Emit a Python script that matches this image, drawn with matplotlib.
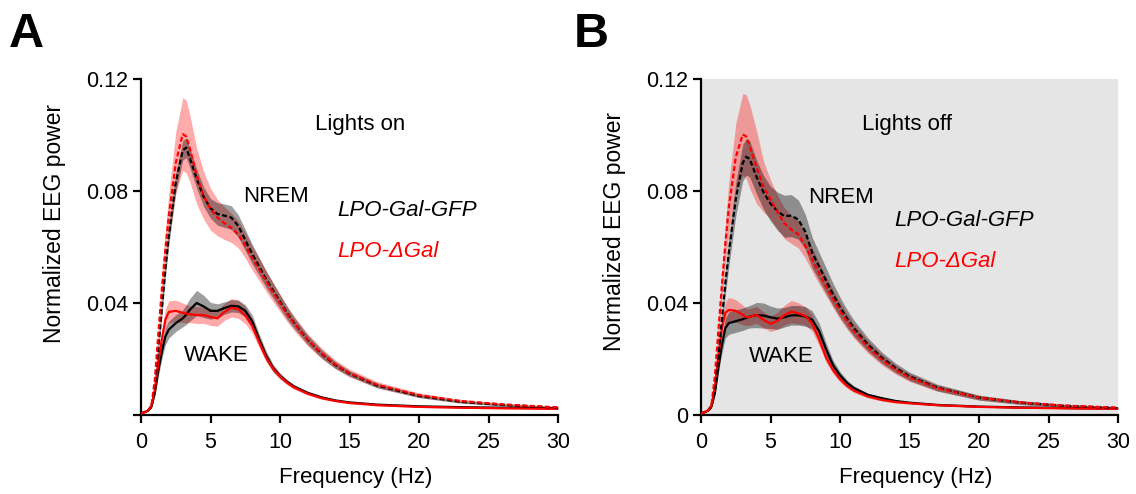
import matplotlib
matplotlib.use("Agg")
import matplotlib.pyplot as plt
import numpy as np

plt.rcParams['font.family'] = ['Liberation Sans', 'DejaVu Sans']

# frequency grid (Hz)
freq = [0, 0.25, 0.5, 0.75, 1.0, 1.25, 1.5, 1.75, 2.0, 2.5, 3.0, 3.25, 3.5, 4.0, 4.5,
        5.0, 5.5, 6.0, 6.5, 7.0, 7.5, 8.0, 8.5, 9.0, 9.5, 10, 10.5, 11, 12, 13, 14, 15,
        17, 20, 23, 26, 30]

# ---- A: lights on ----
a_nrem_gfp = [0.0005, 0.001, 0.0016, 0.003, 0.010, 0.024, 0.038, 0.052, 0.064, 0.083, 0.0945,
              0.0955, 0.092, 0.0845, 0.078, 0.0738, 0.0718, 0.0712, 0.0705, 0.0675, 0.0625,
              0.0575, 0.053, 0.0485, 0.0445, 0.0405, 0.0365, 0.033, 0.0268, 0.0218, 0.0178,
              0.0148, 0.0105, 0.0068, 0.0047, 0.0036, 0.0026]
a_nrem_gfp_sem = [0, 0, 0.0002, 0.0005, 0.001, 0.002, 0.003, 0.003, 0.0035, 0.0035, 0.0035,
                  0.0035, 0.0035, 0.0035, 0.0035, 0.0035, 0.004, 0.0042, 0.0042, 0.004, 0.0038,
                  0.0035, 0.0032, 0.003, 0.0028, 0.0025, 0.0023, 0.002, 0.0017, 0.0015, 0.0012,
                  0.001, 0.0008, 0.0006, 0.0005, 0.0004, 0.0003]
a_nrem_dgal = [0.0005, 0.001, 0.0016, 0.0032, 0.013, 0.029, 0.045, 0.059, 0.071, 0.090, 0.1003,
               0.0995, 0.0955, 0.0855, 0.0785, 0.0735, 0.0705, 0.0685, 0.0668, 0.0645, 0.0605,
               0.056, 0.052, 0.0478, 0.0438, 0.040, 0.0362, 0.0328, 0.0268, 0.022, 0.018,
               0.015, 0.0108, 0.0071, 0.005, 0.0038, 0.0027]
a_nrem_dgal_sem = [0, 0, 0.0002, 0.0005, 0.0015, 0.003, 0.005, 0.0065, 0.008, 0.011, 0.013,
                   0.013, 0.012, 0.010, 0.0085, 0.0075, 0.0065, 0.0058, 0.0052, 0.0048, 0.0045,
                   0.0042, 0.004, 0.0037, 0.0034, 0.0031, 0.0028, 0.0026, 0.0022, 0.0019,
                   0.0016, 0.0014, 0.0011, 0.0008, 0.0006, 0.0005, 0.0004]
a_wake_gfp = [0.0005, 0.001, 0.0015, 0.003, 0.008, 0.016, 0.0225, 0.028, 0.0305, 0.0328, 0.0345,
              0.0358, 0.0375, 0.040, 0.0388, 0.0372, 0.0372, 0.0382, 0.039, 0.0388, 0.0372,
              0.0335, 0.027, 0.0212, 0.0168, 0.014, 0.0119, 0.0102, 0.0079, 0.0063, 0.0052,
              0.0045, 0.0037, 0.0031, 0.0028, 0.0026, 0.0024]
a_wake_gfp_sem = [0, 0, 0.0002, 0.0004, 0.001, 0.002, 0.0025, 0.003, 0.003, 0.003, 0.003,
                  0.0035, 0.004, 0.0045, 0.004, 0.003, 0.0025, 0.0022, 0.0022, 0.0022, 0.0022,
                  0.0022, 0.002, 0.0017, 0.0013, 0.001, 0.0008, 0.0007, 0.0005, 0.0004, 0.0003,
                  0.0003, 0.0002, 0.0002, 0.0002, 0.0002, 0.0002]
a_wake_dgal = [0.0005, 0.001, 0.0015, 0.0032, 0.009, 0.019, 0.027, 0.034, 0.0368, 0.0372, 0.0365,
               0.0362, 0.036, 0.0357, 0.0357, 0.035, 0.0345, 0.0368, 0.0383, 0.0378, 0.0356,
               0.0318, 0.026, 0.0205, 0.0165, 0.0138, 0.0116, 0.0099, 0.0076, 0.006, 0.005,
               0.0043, 0.0035, 0.0029, 0.0026, 0.0024, 0.0022]
a_wake_dgal_sem = [0, 0, 0.0002, 0.0004, 0.001, 0.002, 0.003, 0.0038, 0.004, 0.0038, 0.0035,
                   0.0033, 0.003, 0.003, 0.003, 0.003, 0.0028, 0.003, 0.0033, 0.0033, 0.003,
                   0.0025, 0.002, 0.0015, 0.0012, 0.001, 0.0008, 0.0007, 0.0005, 0.0004, 0.0003,
                   0.0003, 0.0002, 0.0002, 0.0002, 0.0002, 0.0002]

# ---- B: lights off ----
b_nrem_gfp = [0.0005, 0.001, 0.0016, 0.003, 0.009, 0.021, 0.034, 0.047, 0.058, 0.077, 0.090,
              0.0922, 0.0915, 0.085, 0.0795, 0.0755, 0.0728, 0.071, 0.0712, 0.0698, 0.0655,
              0.058, 0.053, 0.048, 0.043, 0.0385, 0.0345, 0.031, 0.0252, 0.0205, 0.0168,
              0.0138, 0.0098, 0.0062, 0.0044, 0.0033, 0.0025]
b_nrem_gfp_sem = [0, 0, 0.0002, 0.0005, 0.001, 0.002, 0.003, 0.004, 0.005, 0.006, 0.0065,
                  0.0065, 0.0065, 0.006, 0.006, 0.0062, 0.0068, 0.0075, 0.0075, 0.007, 0.0062,
                  0.0055, 0.005, 0.0045, 0.004, 0.0036, 0.0032, 0.0029, 0.0024, 0.002, 0.0017,
                  0.0015, 0.0012, 0.0009, 0.0007, 0.0005, 0.0004]
b_nrem_dgal = [0.0005, 0.001, 0.0017, 0.0033, 0.014, 0.030, 0.046, 0.061, 0.074, 0.092, 0.1002,
               0.0995, 0.096, 0.0885, 0.0815, 0.077, 0.0725, 0.0685, 0.0662, 0.0645, 0.0605,
               0.0555, 0.0505, 0.046, 0.0415, 0.0372, 0.0335, 0.030, 0.0243, 0.0198, 0.0162,
               0.0134, 0.0096, 0.0062, 0.0045, 0.0034, 0.0026]
b_nrem_dgal_sem = [0, 0, 0.0002, 0.0005, 0.0015, 0.003, 0.005, 0.007, 0.009, 0.012, 0.0145,
                   0.015, 0.015, 0.013, 0.009, 0.007, 0.006, 0.0055, 0.005, 0.0048, 0.0045,
                   0.0042, 0.0038, 0.0035, 0.0032, 0.003, 0.0028, 0.0025, 0.0022, 0.0019,
                   0.0016, 0.0014, 0.0011, 0.0008, 0.0006, 0.0005, 0.0004]
b_wake_gfp = [0.0005, 0.001, 0.0015, 0.003, 0.008, 0.017, 0.025, 0.031, 0.0328, 0.0335, 0.0342,
              0.0347, 0.0351, 0.0357, 0.0355, 0.0349, 0.0344, 0.0349, 0.0356, 0.0356, 0.0352,
              0.034, 0.030, 0.0235, 0.0178, 0.0142, 0.0115, 0.0096, 0.0072, 0.006, 0.005,
              0.0044, 0.0036, 0.003, 0.0027, 0.0025, 0.0023]
b_wake_gfp_sem = [0, 0, 0.0002, 0.0004, 0.001, 0.002, 0.003, 0.0035, 0.004, 0.004, 0.004,
                  0.004, 0.004, 0.0045, 0.0045, 0.004, 0.0038, 0.0035, 0.0035, 0.0035, 0.0035,
                  0.0032, 0.0028, 0.0022, 0.0017, 0.0013, 0.001, 0.0008, 0.0006, 0.0005, 0.0004,
                  0.0003, 0.0003, 0.0002, 0.0002, 0.0002, 0.0002]
b_wake_dgal = [0.0005, 0.001, 0.0016, 0.0033, 0.010, 0.021, 0.031, 0.0365, 0.0375, 0.0372, 0.0358,
               0.035, 0.035, 0.0358, 0.034, 0.0326, 0.0336, 0.0357, 0.0369, 0.0363, 0.0354,
               0.0327, 0.027, 0.0205, 0.016, 0.0128, 0.0104, 0.0087, 0.0066, 0.0054, 0.0046,
               0.0042, 0.0035, 0.0029, 0.0026, 0.0024, 0.0022]
b_wake_dgal_sem = [0, 0, 0.0002, 0.0004, 0.001, 0.002, 0.003, 0.004, 0.0045, 0.004, 0.0035,
                   0.003, 0.003, 0.003, 0.0028, 0.0028, 0.003, 0.0035, 0.004, 0.0038, 0.0033,
                   0.0028, 0.0022, 0.0017, 0.0012, 0.001, 0.0008, 0.0007, 0.0005, 0.0004, 0.0003,
                   0.0003, 0.0002, 0.0002, 0.0002, 0.0002, 0.0002]

x_ticks = [0, 5, 10, 15, 20, 25, 30]
y_ticks = [0, 0.04, 0.08, 0.12]

RED = '#ff0000'
BLACK = '#000000'


def banda(ax, m, s, color, alpha):
    m = np.array(m)
    s = np.array(s)
    ax.fill_between(freq, m - s, m + s, color=color, alpha=alpha, lw=0)


def panel(ax, datos, titulo, pos_titulo, pos_nrem, pos_wake, pos_gfp, pos_dgal, etiqueta0, fondo, ylab_y):
    nrem_gfp, nrem_gfp_sem, nrem_dgal, nrem_dgal_sem, wake_gfp, wake_gfp_sem, wake_dgal, wake_dgal_sem = datos
    ax.set_facecolor(fondo)
    banda(ax, nrem_dgal, nrem_dgal_sem, RED, 0.33)
    banda(ax, wake_dgal, wake_dgal_sem, RED, 0.33)
    banda(ax, nrem_gfp, nrem_gfp_sem, BLACK, 0.38)
    banda(ax, wake_gfp, wake_gfp_sem, BLACK, 0.38)
    ax.plot(freq, wake_gfp, color=BLACK, lw=1.6, zorder=3)
    ax.plot(freq, wake_dgal, color=RED, lw=1.6, zorder=3)
    ax.plot(freq, nrem_gfp, color=BLACK, lw=1.6, ls=(0, (2.2, 1.2)), zorder=4)
    ax.plot(freq, nrem_dgal, color=RED, lw=1.6, ls=(0, (2.2, 1.2)), zorder=4)

    ax.set_xlim(0, 30)
    ax.set_ylim(0, 0.12)
    ax.set_xticks(x_ticks)
    ax.set_yticks(y_ticks)
    ax.set_yticklabels([etiqueta0, '0.04', '0.08', '0.12'])
    for lado in ['top', 'right']:
        ax.spines[lado].set_visible(False)
    for lado in ['left', 'bottom']:
        ax.spines[lado].set_linewidth(1.6)
    ax.tick_params(axis='both', labelsize=15.5, width=1.6, length=6, direction='out')
    ax.tick_params(axis='x', pad=6)
    ax.tick_params(axis='y', pad=3)
    ax.set_xlabel('Frequency (Hz)', fontsize=16)
    ax.set_ylabel('Normalized EEG power', fontsize=16.5)
    ax.xaxis.set_label_coords(0.515, -0.155)
    ax.yaxis.set_label_coords(-0.18, ylab_y)

    ax.text(*pos_titulo, titulo, fontsize=16, ha='center', va='center')
    ax.text(*pos_nrem, 'NREM', fontsize=16, ha='center', va='center')
    ax.text(*pos_wake, 'WAKE', fontsize=16, ha='center', va='center')
    ax.text(*pos_gfp, 'LPO-Gal-GFP', fontsize=16, style='italic', ha='left', va='center')
    ax.text(*pos_dgal, 'LPO-\u0394Gal', fontsize=16, style='italic', color=RED, ha='left', va='center')


fig = plt.figure(figsize=(11.36, 4.94), dpi=100)
ax_a = fig.add_axes([141 / 1136, 1 - 415 / 494, 417 / 1136, 336 / 494])
ax_b = fig.add_axes([701 / 1136, 1 - 415 / 494, 417 / 1136, 336 / 494])

panel(ax_a,
      (a_nrem_gfp, a_nrem_gfp_sem, a_nrem_dgal, a_nrem_dgal_sem,
       a_wake_gfp, a_wake_gfp_sem, a_wake_dgal, a_wake_dgal_sem),
      'Lights on', (15.8, 0.1036), (9.7, 0.078), (5.4, 0.0211), (14.1, 0.073), (14.1, 0.0583),
      '', 'white', 0.57)
panel(ax_b,
      (b_nrem_gfp, b_nrem_gfp_sem, b_nrem_dgal, b_nrem_dgal_sem,
       b_wake_gfp, b_wake_gfp_sem, b_wake_dgal, b_wake_dgal_sem),
      'Lights off', (14.8, 0.1039), (10.1, 0.0777), (5.8, 0.0208), (13.9, 0.0694), (13.9, 0.0548),
      '0', '#e5e5e5', 0.545)

fig.text(9 / 1136, 1 - 47 / 494, 'A', fontsize=35, fontweight='bold', va='baseline')
fig.text(574 / 1136, 1 - 47 / 494, 'B', fontsize=35, fontweight='bold', va='baseline')

fig.savefig('out.png', dpi=100)
